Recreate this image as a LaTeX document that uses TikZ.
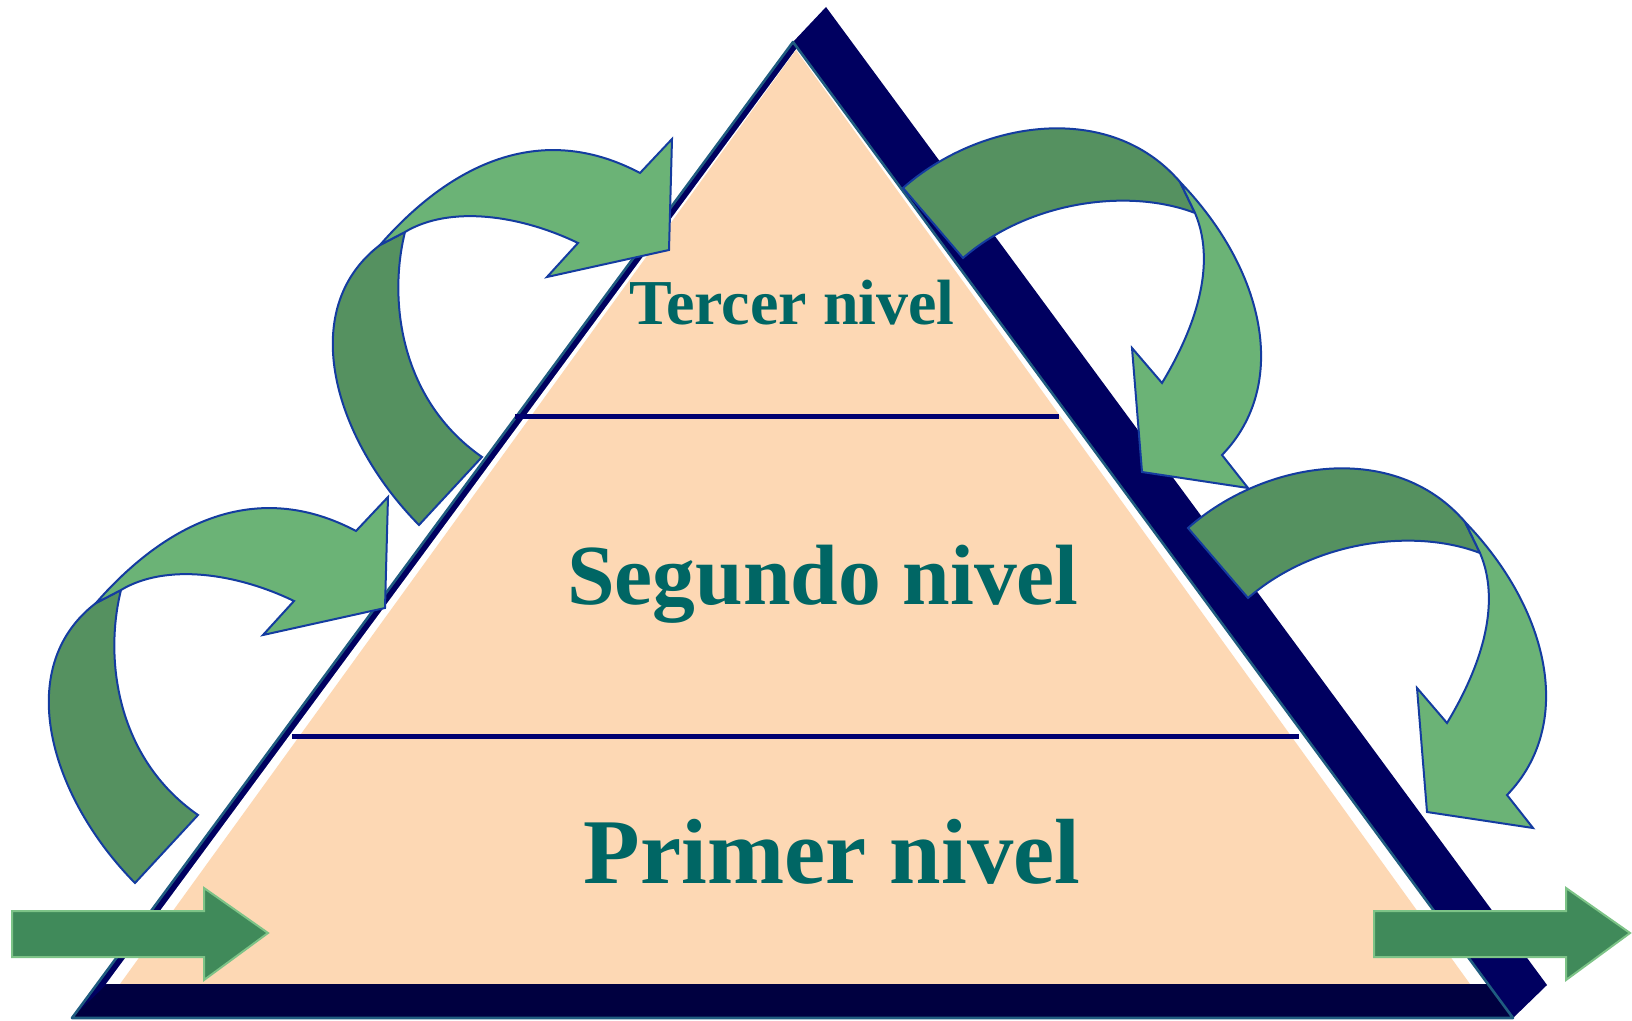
\documentclass[tikz,border=0pt]{standalone}
\usepackage{fontspec}
\setmainfont{Liberation Serif}
\usetikzlibrary{positioning}

\definecolor{navyband}{RGB}{0,0,96}
\definecolor{navydeep}{RGB}{0,0,64}
\definecolor{tealedge}{RGB}{31,92,128}
\definecolor{peach}{RGB}{253,216,180}
\definecolor{levelnavy}{RGB}{0,0,112}
\definecolor{textteal}{RGB}{0,102,100}
\definecolor{greendark}{RGB}{85,145,96}
\definecolor{greenlight}{RGB}{107,179,118}
\definecolor{arrowedge}{RGB}{20,60,160}
\definecolor{greenflat}{RGB}{64,138,90}
\definecolor{greenrim}{RGB}{125,195,135}

\tikzset{bandark/.style = {fill=greendark, draw=arrowedge, line width=1pt, line join=miter}}
\tikzset{bandlight/.style = {fill=greenlight, draw=arrowedge, line width=1pt, line join=miter}}
\tikzset{flatarrow/.style = {fill=greenflat, draw=greenrim, line width=1pt}}
\tikzset{levelline/.style = {draw=levelnavy, line width=2.5pt}}
\tikzset{leveltext/.style = {anchor=base, text=textteal, inner sep=0pt}}

\begin{document}
\begin{tikzpicture}[x=0.5pt, y=-0.5pt]
    \useasboundingbox (0,0) rectangle (1632,1021);

    % pyramid
    \fill[navyband] (793,42) -- (826,7) -- (1547,985) -- (1513,1018) -- cycle;
    \fill[navyband] (793,42) -- (72,1018) -- (1513,1018) -- cycle;
    \fill[white] (797,48) -- (106,984) -- (1488,984) -- cycle;
    \fill[peach] (796,50) -- (120,984) -- (1470,984) -- cycle;
    \fill[navydeep] (107,984) -- (1488,984) -- (1513,1018) -- (72,1018) -- cycle;
    \draw[tealedge, line width=1.3pt, line join=round] (793,42) -- (72,1018) -- (1513,1018) -- cycle;

    \draw[levelline] (515,416) -- (1059,416);
    \draw[levelline] (292,736) -- (1299,736);

    \node[leveltext, font=\bfseries\fontsize{32}{32}\selectfont] (tercer) at (792,325) {Tercer nivel};
    \node[leveltext, font=\bfseries\fontsize{42.8}{42.8}\selectfont] (segundo) at (823,604) {Segundo nivel};
    \node[leveltext, font=\bfseries\fontsize{46.3}{46.3}\selectfont] (primer) at (832,883) {Primer nivel};

    % curved arrows, left face
    \foreach \dx/\dy in {0/0, -284/358} {
        \begin{scope}[shift={(\dx,\dy)}]
            \filldraw[bandark] (482,457) -- (419,525)
                .. controls (335,440) and (295,310) .. (380,245)
                -- (405,232)
                .. controls (388,300) and (400,400) .. (482,457)
                -- cycle;
            \filldraw[bandlight] (380,245)
                .. controls (450,165) and (540,120) .. (640,173)
                -- (672,139) -- (669,250) -- (547,277) -- (578,243)
                .. controls (520,215) and (450,205) .. (405,232)
                -- cycle;
        \end{scope}
    }

    % curved arrows, right face
    \foreach \dx/\dy in {0/0, 285/340} {
        \begin{scope}[shift={(\dx,\dy)}]
            \filldraw[bandark] (963,258) -- (903,188)
                .. controls (980,120) and (1110,100) .. (1180,182)
                -- (1195,213)
                .. controls (1130,188) and (1030,200) .. (963,258)
                -- cycle;
            \filldraw[bandlight] (1180,182)
                .. controls (1265,270) and (1290,385) .. (1222,455)
                -- (1248,488) -- (1142,472) -- (1132,348) -- (1162,383)
                .. controls (1200,320) and (1215,260) .. (1195,213)
                -- cycle;
        \end{scope}
    }

    % straight arrows at the base
    \foreach \dx in {0, 1362}
        \filldraw[flatarrow, shift={(\dx,0)}] (12,911) -- (204,911) -- (204,888) -- (268,933)
            -- (204,980) -- (204,957) -- (12,957) -- cycle;
\end{tikzpicture}
\end{document}
